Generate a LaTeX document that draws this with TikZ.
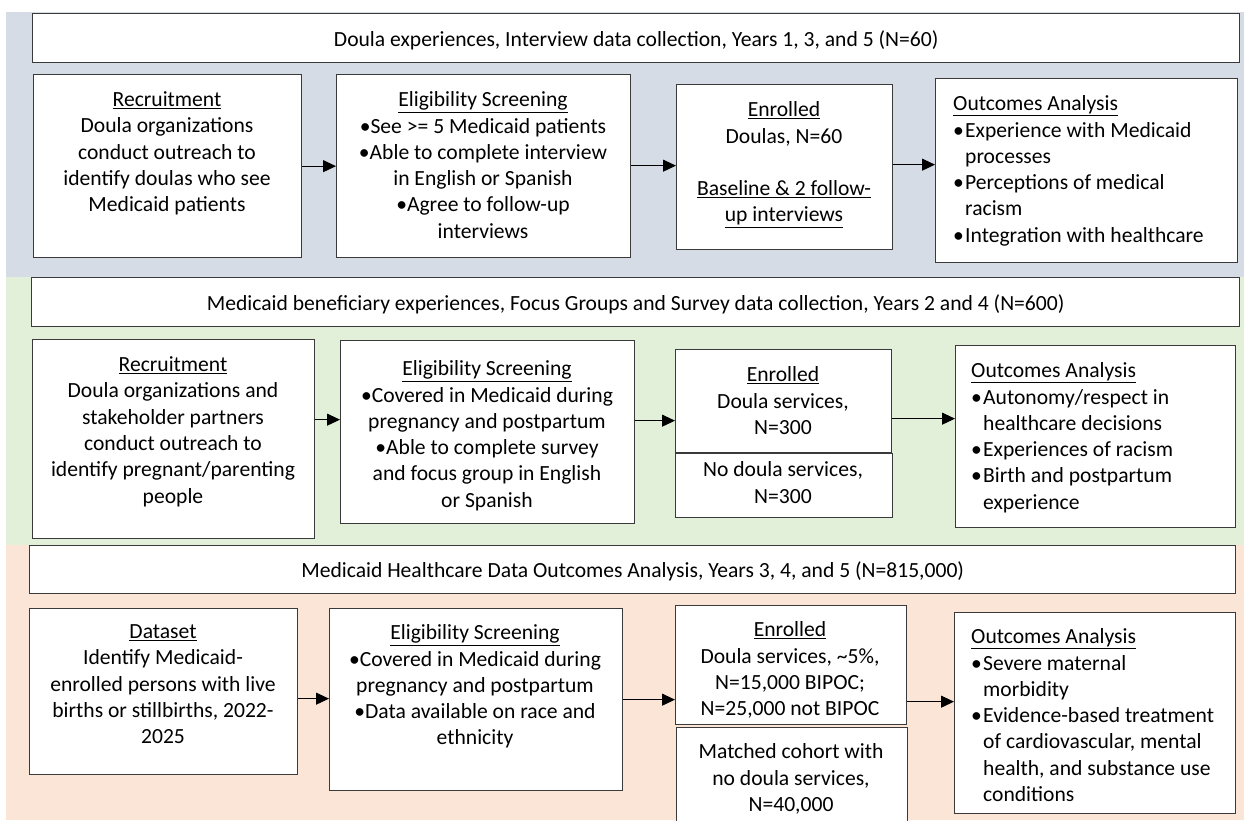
\documentclass[tikz,border=0pt]{standalone}
\usepackage{fontspec}
\setmainfont{Carlito}
\usetikzlibrary{arrows.meta}
\definecolor{bandblue}{HTML}{D6DCE5}
\definecolor{bandgreen}{HTML}{E2F0D9}
\definecolor{bandsalmon}{HTML}{FBE5D6}
\definecolor{edgecol}{HTML}{3A3A3A}
\newcommand\fsz{\fontsize{21.6}{26.3}\selectfont}
\newlength\bulw \setlength\bulw{12pt}
\newcommand\blt{\makebox[\bulw][l]{•}}
\newcommand\indt{\hspace*{\bulw}}
\tikzset{
  box/.style={draw=edgecol, line width=1.3pt, fill=white, inner sep=0pt, anchor=north west},
  txt/.style={inner sep=0pt, anchor=north, align=center, font=\fsz, execute at begin node=\strut, yshift=-5.5pt},
  ltxt/.style={inner sep=0pt, anchor=north west, align=left, font=\fsz, execute at begin node=\strut, yshift=-5.5pt},
  ttl/.style={inner sep=0pt, font=\fsz, yshift=-2pt},
  arr/.style={draw=black, line width=1pt, -{Triangle[length=13pt,width=12pt]}},
}
\begin{document}
\begin{tikzpicture}[x=1pt,y=-1pt]
\useasboundingbox (0,0) rectangle (1244,820);
\clip (0,0) rectangle (1244,820);
% bands
\fill[bandblue] (6,12) rectangle (1244,277);
\fill[bandgreen] (6,277) rectangle (1244,545);
\fill[bandsalmon] (6,545) rectangle (1244,820);

% ---------- row 1
\node[box, minimum width=1207pt, minimum height=49pt] (t1) at (32,13) {};
\node[ttl] (t1t) at (t1.center) {Doula experiences, Interview data collection, Years 1, 3, and 5 (N=60)};
\node[box, minimum width=268pt, minimum height=183pt] (r1) at (33,74) {};
\node[box, minimum width=294pt, minimum height=183pt] (e1) at (336,74) {};
\node[box, minimum width=216pt, minimum height=165pt] (en1) at (676,84) {};
\node[box, minimum width=302pt, minimum height=184pt] (o1) at (935,78) {};
\node[txt] (r1t) at (167,86) {\underline{Recruitment}\\Doula organizations\\conduct outreach to\\identify doulas who see\\Medicaid patients};
\node[txt] (e1t) at (483,86) {\underline{Eligibility Screening}\\•See >= 5 Medicaid patients\\•Able to complete interview\\in English or Spanish\\•Agree to follow-up\\interviews};
\node[txt] (en1t) at (784,96) {\underline{Enrolled}\\Doulas, N=60\\\mbox{}\\\underline{Baseline \& 2 follow-}\\\underline{up interviews}};
\node[ltxt] (o1t) at (953,90) {\underline{Outcomes Analysis}\\\blt Experience with Medicaid\\\indt processes\\\blt Perceptions of medical\\\indt racism\\\blt Integration with healthcare};
\draw[arr] (r1.east) -- (r1.east -| e1.west);
\draw[arr] ([yshift=0.5pt]e1.east) -- ([yshift=0.5pt]e1.east -| en1.west);
\draw[arr] ([yshift=2.5pt]en1.east) -- ([yshift=2.5pt]en1.east -| o1.west);

% ---------- row 2
\node[box, minimum width=1208pt, minimum height=49pt] (t2) at (31,277) {};
\node[ttl] (t2t) at (t2.center) {Medicaid beneficiary experiences, Focus Groups and Survey data collection, Years 2 and 4 (N=600)};
\node[box, minimum width=282pt, minimum height=199pt] (r2) at (32,339) {};
\node[box, minimum width=294pt, minimum height=183pt] (e2) at (340,340) {};
\node[box, minimum width=217pt, minimum height=64pt] (en2b) at (675,453) {};
\node[box, minimum width=216pt, minimum height=103pt] (en2a) at (675,349) {};
\node[box, minimum width=280pt, minimum height=182pt] (o2) at (955,345) {};
\node[txt] (r2t) at (173,351) {\underline{Recruitment}\\Doula organizations and\\stakeholder partners\\conduct outreach to\\identify pregnant/parenting\\people};
\node[txt] (e2t) at (487,355) {\underline{Eligibility Screening}\\•Covered in Medicaid during\\pregnancy and postpartum\\•Able to complete survey\\and focus group in English\\or Spanish};
\node[txt] (en2at) at (783,361) {\underline{Enrolled}\\Doula services,\\N=300};
\node[txt] (en2bt) at (783,456) {No doula services,\\N=300};
\node[ltxt] (o2t) at (971,357) {\underline{Outcomes Analysis}\\\blt Autonomy/respect in\\\indt healthcare decisions\\\blt Experiences of racism\\\blt Birth and postpartum\\\indt experience};
\draw[arr] ([yshift=19.5pt]r2.east) -- ([yshift=19.5pt]r2.east -| e2.west);
\draw[arr] ([yshift=11.5pt]e2.east) -- ([yshift=11.5pt]e2.east -| en2a.west);
\draw[arr] ([yshift=-17.5pt]en2a.east) -- ([yshift=-17.5pt]en2a.east -| o2.west);

% ---------- row 3
\node[box, minimum width=1206pt, minimum height=48pt] (t3) at (29,545) {};
\node[ttl] (t3t) at (t3.center) {Medicaid Healthcare Data Outcomes Analysis, Years 3, 4, and 5 (N=815,000)};
\node[box, minimum width=268pt, minimum height=166pt] (d3) at (29,608) {};
\node[box, minimum width=293pt, minimum height=182pt] (e3) at (329,608) {};
\node[box, minimum width=231pt, minimum height=119pt] (en3a) at (675,605) {};
\node[box, minimum width=231pt, minimum height=110pt] (en3b) at (676,727) {};
\node[box, minimum width=281pt, minimum height=201pt] (o3) at (954,612) {};
\node[txt] (d3t) at (163,619) {\underline{Dataset}\\Identify Medicaid-\\enrolled persons with live\\births or stillbirths, 2022-\\2025};
\node[txt] (e3t) at (475,619) {\underline{Eligibility Screening}\\•Covered in Medicaid during\\pregnancy and postpartum\\•Data available on race and\\ethnicity};
\node[txt] (en3at) at (790,616) {\underline{Enrolled}\\Doula services, \textasciitilde5\%,\\N=15,000 BIPOC;\\N=25,000 not BIPOC};
\node[txt] (en3bt) at (791,738) {Matched cohort with\\no doula services,\\N=40,000};
\node[ltxt] (o3t) at (971,623) {\underline{Outcomes Analysis}\\\blt Severe maternal\\\indt morbidity\\\blt Evidence-based treatment\\\indt of cardiovascular, mental\\\indt health, and substance use\\\indt conditions};
\draw[arr] ([yshift=-7pt]d3.east) -- ([yshift=-7pt]d3.east -| e3.west);
\draw[arr] (e3.east) -- (e3.east -| en3a.west);
\draw[arr] ([yshift=-36.5pt]en3a.east) -- ([yshift=-36.5pt]en3a.east -| o3.west);
\end{tikzpicture}
\end{document}
